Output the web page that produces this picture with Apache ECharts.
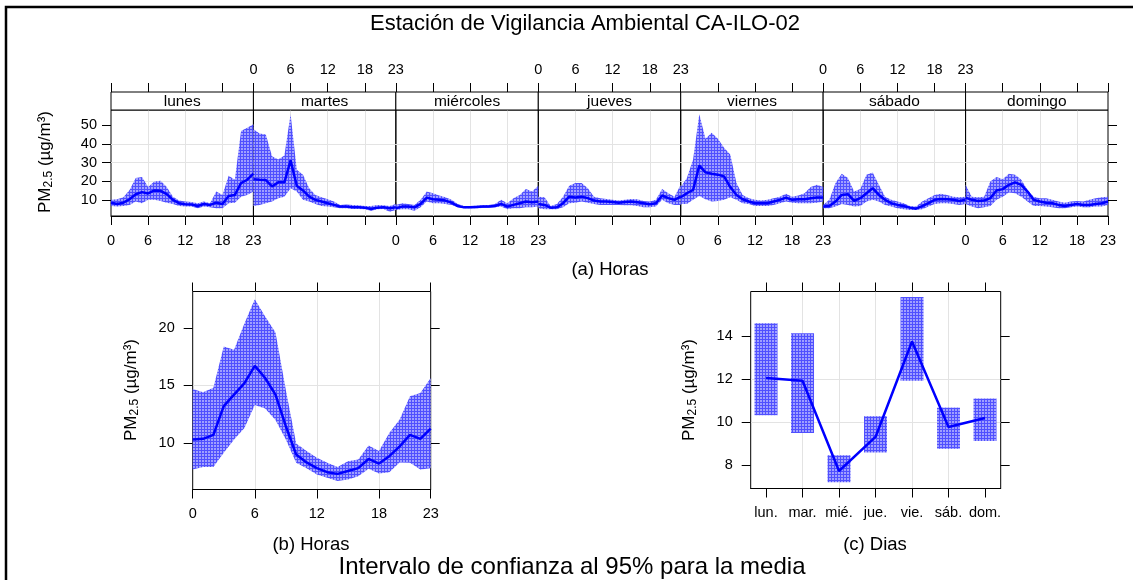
<!DOCTYPE html>
<html><head><meta charset="utf-8">
<script src="https://cdn.jsdelivr.net/npm/echarts@6/dist/echarts.min.js"></script>
<style>html,body{margin:0;padding:0;background:#fff}#c{width:1133px;height:580px}</style>
</head><body><div id="c"></div>
<script>
// ---------------- DATA ----------------
const HOURS = [0,1,2,3,4,5,6,7,8,9,10,11,12,13,14,15,16,17,18,19,20,21,22,23];
const HOUR_TICKS = [0,6,12,18,23];
const DAYS = ['lunes','martes','miércoles','jueves','viernes','sábado','domingo'];
const DAY_ABBR = ['lun.','mar.','mié.','jue.','vie.','sáb.','dom.'];
const DAY_POS = [0,1,2,3,4,5,6];
const TOP_Y_TICKS = [10,20,30,40,50];
const HOUR_Y_TICKS = [10,15,20];
const DAY_Y_TICKS = [8,10,12,14];

// (a) day x hour
const lunesMean  = [8.7,8.0,8.7,10.5,13.2,14.3,13.6,15.2,15.0,13.2,10.2,8.4,7.8,7.7,6.9,8.0,7.5,8.7,8.0,12.3,12.8,19.1,20.9,24.1];
const lunesLower = [6.9,6.6,6.9,7.5,9.3,8.4,10.2,10.2,9.6,8.7,8.0,6.9,6.6,6.6,5.7,6.6,6.2,5.7,5.7,8.4,8.7,11.9,12.8,14.6];
const lunesUpper = [10.2,10.5,11.6,15.5,21.8,22.3,17.0,20.0,20.3,17.0,11.9,9.8,9.3,9.1,8.4,9.3,8.4,14.6,12.8,23.0,20.9,46.8,48.6,50.4];

const martesMean  = [21.2,20.9,20.7,17.3,19.5,19.5,31.2,17.7,15.2,11.9,10.2,9.3,8.4,7.5,6.6,6.6,6.2,6.2,6.05,5.3,6.05,6.2,5.7,6.2];
const martesLower = [6.9,7.5,8.4,9.3,11.1,11.9,16.4,14.6,10.2,9.3,8.0,6.9,6.6,6.2,5.7,5.7,5.3,5.3,5.2,4.4,5.2,5.3,3.9,4.8];
const martesUpper = [47.7,45.5,45.0,33.4,31.6,33.8,55.7,26.2,23.6,16.4,12.8,11.6,10.5,9.3,7.5,7.7,7.5,7.3,6.9,6.9,7.5,7.3,6.9,8.0];

const miercolesMean  = [5.7,6.6,6.6,6.2,8.0,11.4,10.5,10.2,9.8,8.7,6.9,6.2,6.2,6.4,6.6,6.6,6.9,8.0,6.6,7.5,8.4,9.3,8.9,9.3];
const miercolesLower = [4.8,5.2,5.2,4.4,6.2,9.3,8.4,8.4,8.0,7.5,6.2,5.7,5.7,5.7,5.9,6.05,6.2,6.6,5.2,5.7,5.7,6.2,6.2,6.6];
const miercolesUpper = [7.5,8.4,8.0,7.5,10.2,14.6,13.7,12.5,11.6,10.2,8.0,6.9,6.9,7.1,7.3,7.5,8.0,10.2,8.4,11.1,12.8,15.9,14.6,17.7];

const juevesMean  = [8.0,7.5,6.05,6.2,8.4,11.9,11.4,11.9,11.1,9.8,9.3,9.3,9.1,8.7,9.1,9.3,8.9,8.4,7.8,8.4,12.5,11.1,10.2,11.9];
const juevesLower = [5.7,5.2,5.2,5.2,6.2,8.4,8.7,9.3,8.7,8.0,7.5,7.5,7.5,7.5,7.3,7.3,6.9,6.2,6.2,6.6,10.2,8.4,7.5,7.5];
const juevesUpper = [11.9,11.6,6.9,8.0,11.9,17.7,19.1,19.1,16.4,11.9,11.1,10.7,10.2,9.8,10.2,10.7,10.5,9.6,9.3,10.2,15.9,13.7,11.9,18.2];

const viernesMean  = [11.6,13.7,15.5,28.4,24.8,24.1,23.6,22.7,17.0,12.8,10.5,9.3,8.4,8.4,8.4,9.3,10.2,11.4,10.2,10.5,10.5,11.1,11.4,11.4];
const viernesLower = [8.0,8.0,10.2,12.3,10.5,9.3,9.6,10.2,11.6,10.2,8.4,8.0,6.9,6.9,6.9,7.5,8.4,9.3,8.7,8.4,8.4,8.4,8.7,9.3];
const viernesUpper = [17.0,21.8,31.6,55.7,42.7,45.9,42.7,37.9,34.3,19.1,12.8,11.1,10.2,9.8,10.2,11.1,11.9,13.4,11.9,12.5,13.7,17.0,18.2,17.0];

const sabadoMean  = [6.6,6.9,9.3,12.8,13.2,9.6,11.1,13.7,16.4,12.8,10.2,8.4,7.5,6.9,6.05,5.5,6.9,8.4,10.2,10.7,10.5,10.2,9.6,10.2];
const sabadoLower = [5.7,5.7,6.6,8.0,7.5,6.6,6.9,9.3,10.2,9.3,7.5,6.6,5.7,5.2,4.8,4.8,5.2,6.6,8.0,8.4,8.4,8.0,7.5,8.0];
const sabadoUpper = [7.5,10.2,19.1,24.1,21.8,14.6,15.9,23.6,24.8,18.2,11.9,10.2,9.3,8.4,6.9,6.6,9.3,11.1,12.8,13.4,12.8,11.9,11.6,11.9];

const domingoMean  = [11.4,10.2,9.6,9.8,11.1,15.2,15.9,18.2,19.5,18.2,14.6,10.2,9.3,8.7,8.4,7.5,6.9,7.5,8.0,7.5,7.5,8.0,8.4,9.3];
const domingoLower = [8.0,6.6,5.7,6.2,6.9,10.2,11.9,14.1,13.7,11.9,9.3,6.9,6.9,6.6,6.2,5.7,5.7,6.2,6.6,6.2,6.2,6.6,6.6,7.5];
const domingoUpper = [18.2,11.9,11.6,11.9,20.0,22.3,21.2,24.1,23.6,20.9,15.5,11.9,11.1,11.1,10.2,9.3,8.7,9.3,9.6,9.3,10.2,11.1,11.6,11.9];

// (b) hour of day
const hourMean  = [10.3,10.35,10.7,13.2,14.2,15.2,16.7,15.65,14.2,11.45,8.99,8.3,7.8,7.45,7.3,7.55,7.8,8.6,8.2,8.84,9.7,10.7,10.35,11.25];
const hourLower = [7.68,7.9,7.9,9.13,10.3,11.3,13.3,13.0,12.0,10.3,8.26,7.8,7.25,6.96,6.67,6.8,7.1,7.74,7.33,7.45,8.3,8.26,7.68,7.8];
const hourUpper = [14.7,14.4,14.8,18.4,18.1,20.4,22.5,21.0,19.6,14.6,9.94,9.3,8.7,8.26,7.9,8.4,8.55,9.77,9.3,10.87,12.03,14.06,14.35,15.65];

// (c) day of week
const dayMean  = [12.05,11.92,7.74,9.32,13.74,9.78,10.2];
const dayLower = [10.33,9.5,7.22,8.6,11.92,8.77,9.13];
const dayUpper = [14.59,14.12,8.47,10.28,15.8,10.68,11.1];

const WEEK = [
  [lunesMean, lunesLower, lunesUpper],
  [martesMean, martesLower, martesUpper],
  [miercolesMean, miercolesLower, miercolesUpper],
  [juevesMean, juevesLower, juevesUpper],
  [viernesMean, viernesLower, viernesUpper],
  [sabadoMean, sabadoLower, sabadoUpper],
  [domingoMean, domingoLower, domingoUpper]
];

// ---------------- STYLE / LAYOUT ----------------
const FONT = '"Liberation Sans", Arial, Helvetica, sans-serif';
const LINE_BLUE = '#0000ff';
const GRID_GREY = '#e3e3e3';
const TICK_FS = 14.5;
function makePattern(){
  const c = document.createElement('canvas'); c.width = 3; c.height = 3;
  const g = c.getContext('2d');
  g.fillStyle = '#a0a0ff'; g.fillRect(0,0,3,3);
  g.fillStyle = '#5050ff'; g.fillRect(0,0,3,1); g.fillRect(0,0,1,3);
  return c;
}
const PAT = {image: makePattern(), repeat: 'repeat'};

const TOP_LEFT = 111, PANEL_W = 997/7, TOP_Y = 110, TOP_H = 106, STRIP_H = 18;
const B_GRID = {left: 192.7, top: 291.5, width: 238, height: 198};
const C_GRID = {left: 750.7, top: 291.5, width: 250, height: 197};

const grids = [], xAxes = [], yAxes = [], series = [], graphics = [];
const tickStyle = {lineStyle: {color: '#000', width: 1}};
const labelBase = {color: '#000', fontFamily: FONT, fontSize: TICK_FS};

function xAxisDef(grid, pos, opts){
  return Object.assign({
    type: 'value', gridIndex: grid, position: pos,
    axisLine: {show: pos === 'bottom', onZero: false, lineStyle: {color: '#000'}},
    axisTick: Object.assign({show: true, inside: false, length: 9}, tickStyle),
    splitLine: {show: false},
  }, opts);
}
function yAxisDef(grid, pos, opts){
  return Object.assign({
    type: 'value', gridIndex: grid, position: pos,
    axisLine: {show: false, onZero: false},
    axisTick: Object.assign({show: true, inside: false, length: 9}, tickStyle),
    splitLine: {show: false},
  }, opts);
}

function bandRender(lo, up, xs){
  return function(params, api){
    if (params.dataIndex !== 0) return;
    const top = xs.map((x, i) => api.coord([x, up[i]]));
    const bot = xs.map((x, i) => api.coord([x, lo[i]])).reverse();
    return {type: 'polygon', shape: {points: top.concat(bot)}, style: {fill: PAT}};
  };
}

// ---- (a) seven day panels ----
for (let d = 0; d < 7; d++) {
  const left = TOP_LEFT + d * PANEL_W;
  grids.push({left: left, top: TOP_Y, width: PANEL_W, height: TOP_H, show: true,
    borderColor: '#000', borderWidth: 1, backgroundColor: 'transparent', outerBoundsMode: 'none', containLabel: false});
  graphics.push({type: 'rect', shape: {x: left, y: TOP_Y - STRIP_H, width: PANEL_W, height: STRIP_H},
    style: {fill: '#fff', stroke: '#000', lineWidth: 1}, z: 10});
  graphics.push({type: 'text', x: left + PANEL_W / 2, y: TOP_Y - STRIP_H / 2 + 0.5,
    style: {text: DAYS[d], font: '15.5px ' + FONT, fill: '#000', align: 'center', verticalAlign: 'middle'}, z: 11});
}
for (let d = 0; d < 7; d++) {
  xAxes.push(xAxisDef(d, 'bottom', {min: 0, max: 23,
    axisTick: Object.assign({show: true, length: 9, customValues: HOUR_TICKS}, tickStyle),
    axisLabel: Object.assign({show: d % 2 === 0, margin: 17, customValues: HOUR_TICKS, showMinLabel: true, showMaxLabel: true}, labelBase),
    splitLine: {show: true, lineStyle: {color: GRID_GREY, width: 1}, showMinLine: false, showMaxLine: false}}));
}
for (let d = 0; d < 7; d++) {
  xAxes.push(xAxisDef(d, 'top', {min: 0, max: 23, offset: STRIP_H,
    axisTick: Object.assign({show: true, length: 9, customValues: HOUR_TICKS}, tickStyle),
    axisLabel: Object.assign({show: d % 2 === 1, margin: 15, customValues: HOUR_TICKS, showMinLabel: true, showMaxLabel: true}, labelBase)}));
}
for (let d = 0; d < 7; d++) {
  yAxes.push(yAxisDef(d, 'left', {min: 1.6, max: 58,
    axisTick: Object.assign({show: d === 0, length: 9, customValues: TOP_Y_TICKS}, tickStyle),
    axisLabel: Object.assign({show: d === 0, margin: 14, customValues: TOP_Y_TICKS}, labelBase),
    splitLine: {show: true, lineStyle: {color: GRID_GREY, width: 1}, showMinLine: false, showMaxLine: false}}));
}
yAxes.push(yAxisDef(6, 'right', {min: 1.6, max: 58,
  axisTick: Object.assign({show: true, length: 9, customValues: TOP_Y_TICKS}, tickStyle),
  axisLabel: {show: false}}));
for (let d = 0; d < 7; d++) {
  const [m, lo, up] = WEEK[d];
  series.push({type: 'custom', xAxisIndex: d, yAxisIndex: d, z: 2, silent: true,
    renderItem: bandRender(lo, up, HOURS),
    data: HOURS.map((h, i) => [h, lo[i], up[i]]), encode: {x: 0, y: [1, 2]}});
  series.push({type: 'line', xAxisIndex: d, yAxisIndex: d, z: 3, symbol: 'none', silent: true,
    lineStyle: {color: LINE_BLUE, width: 2.5}, data: HOURS.map((h, i) => [h, m[i]])});
}

// ---- (b) hour panel ----
grids.push(Object.assign({show: true, borderColor: '#000', borderWidth: 1, backgroundColor: 'transparent', outerBoundsMode: 'none', containLabel: false}, B_GRID));
const gB = grids.length - 1;
xAxes.push(xAxisDef(gB, 'bottom', {min: 0, max: 23,
  axisTick: Object.assign({show: true, length: 9, customValues: HOUR_TICKS}, tickStyle),
  axisLabel: Object.assign({show: true, margin: 17, customValues: HOUR_TICKS, showMinLabel: true, showMaxLabel: true}, labelBase),
  splitLine: {show: true, lineStyle: {color: GRID_GREY, width: 1}, showMinLine: false, showMaxLine: false}}));
const xB = xAxes.length - 1;
xAxes.push(xAxisDef(gB, 'top', {min: 0, max: 23,
  axisTick: Object.assign({show: true, length: 9, customValues: HOUR_TICKS}, tickStyle),
  axisLabel: {show: false}}));
yAxes.push(yAxisDef(gB, 'left', {min: 5.94, max: 23.18,
  axisTick: Object.assign({show: true, length: 9, customValues: HOUR_Y_TICKS}, tickStyle),
  axisLabel: Object.assign({show: true, margin: 18, customValues: HOUR_Y_TICKS}, labelBase),
  splitLine: {show: true, lineStyle: {color: GRID_GREY, width: 1}, showMinLine: false, showMaxLine: false}}));
const yB = yAxes.length - 1;
yAxes.push(yAxisDef(gB, 'right', {min: 5.94, max: 23.18,
  axisTick: Object.assign({show: true, length: 9, customValues: HOUR_Y_TICKS}, tickStyle),
  axisLabel: {show: false}}));
series.push({type: 'custom', xAxisIndex: xB, yAxisIndex: yB, z: 2, silent: true,
  renderItem: bandRender(hourLower, hourUpper, HOURS),
  data: HOURS.map((h, i) => [h, hourLower[i], hourUpper[i]]), encode: {x: 0, y: [1, 2]}});
series.push({type: 'line', xAxisIndex: xB, yAxisIndex: yB, z: 3, symbol: 'none', silent: true,
  lineStyle: {color: LINE_BLUE, width: 2.5}, data: HOURS.map((h, i) => [h, hourMean[i]])});

// ---- (c) day panel ----
grids.push(Object.assign({show: true, borderColor: '#000', borderWidth: 1, backgroundColor: 'transparent', outerBoundsMode: 'none', containLabel: false}, C_GRID));
const gC = grids.length - 1;
xAxes.push(xAxisDef(gC, 'bottom', {min: -0.42, max: 6.43,
  axisTick: Object.assign({show: true, length: 9, customValues: DAY_POS}, tickStyle),
  axisLabel: Object.assign({show: true, margin: 17, customValues: DAY_POS, formatter: v => DAY_ABBR[Math.round(v)]}, labelBase),
  splitLine: {show: true, lineStyle: {color: GRID_GREY, width: 1}, showMinLine: false, showMaxLine: false}}));
const xC = xAxes.length - 1;
xAxes.push(xAxisDef(gC, 'top', {min: -0.42, max: 6.43,
  axisTick: Object.assign({show: true, length: 9, customValues: DAY_POS}, tickStyle),
  axisLabel: {show: false}}));
yAxes.push(yAxisDef(gC, 'left', {min: 6.93, max: 16.06,
  axisTick: Object.assign({show: true, length: 9, customValues: DAY_Y_TICKS}, tickStyle),
  axisLabel: Object.assign({show: true, margin: 18, customValues: DAY_Y_TICKS}, labelBase),
  splitLine: {show: true, lineStyle: {color: GRID_GREY, width: 1}, showMinLine: false, showMaxLine: false}}));
const yC = yAxes.length - 1;
yAxes.push(yAxisDef(gC, 'right', {min: 6.93, max: 16.06,
  axisTick: Object.assign({show: true, length: 9, customValues: DAY_Y_TICKS}, tickStyle),
  axisLabel: {show: false}}));
const BOX_HALF = 0.315;
series.push({type: 'custom', xAxisIndex: xC, yAxisIndex: yC, z: 2, silent: true,
  renderItem: function(params, api){
    const x = api.value(0), lo = api.value(1), up = api.value(2);
    const p1 = api.coord([x - BOX_HALF, up]), p2 = api.coord([x + BOX_HALF, lo]);
    return {type: 'rect', shape: {x: p1[0], y: p1[1], width: p2[0] - p1[0], height: p2[1] - p1[1]}, style: {fill: PAT}};
  },
  data: DAY_POS.map((p, i) => [p, dayLower[i], dayUpper[i]]), encode: {x: 0, y: [1, 2]}});
series.push({type: 'line', xAxisIndex: xC, yAxisIndex: yC, z: 3, symbol: 'none', silent: true,
  lineStyle: {color: LINE_BLUE, width: 2.5}, data: DAY_POS.map((p, i) => [p, dayMean[i]])});

// ---- texts ----
function txt(x, y, s, size){
  return {type: 'text', x: x, y: y, z: 20,
    style: {text: s, font: size + 'px ' + FONT, fill: '#000', align: 'center', verticalAlign: 'middle'}};
}
function pmLabel(x, y){
  return {type: 'text', x: x, y: y, rotation: Math.PI / 2, z: 20,
    style: {text: '{a|PM}{s|2.5}{a| (µg/m³)}', align: 'center', verticalAlign: 'middle', fill: '#000',
      rich: {a: {fontSize: 17, fontFamily: FONT, lineHeight: 20, fill: '#000', color: '#000'},
             s: {fontSize: 12, fontFamily: FONT, lineHeight: 10, verticalAlign: 'bottom', fill: '#000', color: '#000'}}}};
}
graphics.push({type: 'rect', shape: {x: 6, y: 7, width: 1200, height: 700}, style: {fill: 'none', stroke: '#000', lineWidth: 2.5}, z: 0});
graphics.push(txt(585, 24, 'Estación de Vigilancia Ambiental CA-ILO-02', 22));
graphics.push(txt(610, 270, '(a) Horas', 18.5));
graphics.push(txt(311, 545, '(b) Horas', 18.5));
graphics.push(txt(875, 545, '(c) Dias', 18.5));
graphics.push(txt(572, 567, 'Intervalo de confianza al 95% para la media', 24));
graphics.push(pmLabel(45, 162));
graphics.push(pmLabel(131, 390));
graphics.push(pmLabel(689, 390));

const chart = echarts.init(document.getElementById('c'), null, {renderer: 'canvas'});
chart.setOption({
  animation: false,
  backgroundColor: '#fff',
  textStyle: {fontFamily: FONT},
  grid: grids, xAxis: xAxes, yAxis: yAxes, series: series, graphic: graphics
});
</script></body></html>
